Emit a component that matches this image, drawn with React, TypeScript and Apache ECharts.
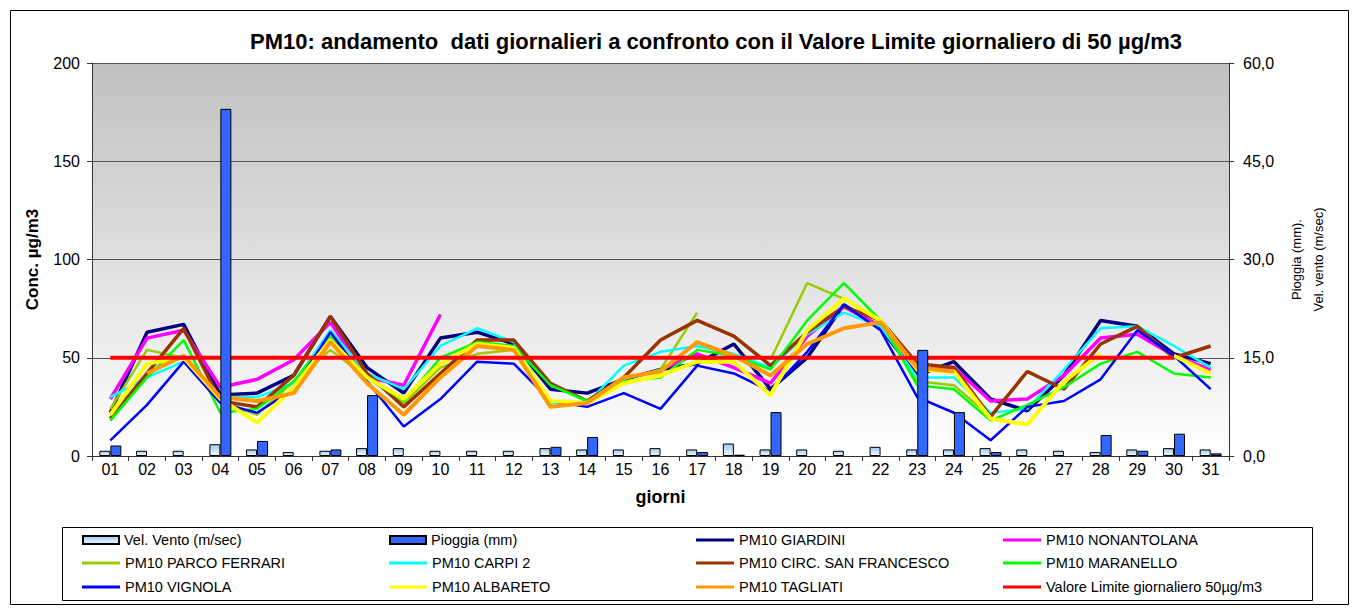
import React, { useEffect, useRef } from 'react';
import * as echarts from 'echarts';

const days = ['01','02','03','04','05','06','07','08','09','10','11','12','13','14','15','16','17','18','19','20','21','22','23','24','25','26','27','28','29','30','31'];

const velVento = [0.8,0.8,0.8,1.8,1.0,0.6,0.8,1.2,1.2,0.8,0.8,0.8,1.2,1.0,1.0,1.2,1.0,1.9,1.0,1.0,0.8,1.4,1.0,1.0,1.2,1.0,0.8,0.6,1.0,1.2,1.0];
const pioggia = [1.6,null,null,53,2.3,null,1.0,9.3,null,null,null,null,1.4,2.9,null,null,0.6,0.2,6.7,null,null,null,16.2,6.7,0.6,null,null,3.2,0.8,3.4,0.4];

const giardini = [22,63,67,31,32,41,71,45,32,60,63,57,34,32,39,44,47,57,34,50,77,65,41,48,29,23,41,69,66,52,47];
const nonantolana = [29,60,64,35,39,49,68,40,36,72,null,null,null,null,null,44,52,45,37,61,76,66,44,45,28,29,41,60,62,51,44];
const parcoFerrari = [24,54,50,28,21,38,54,40,27,45,52,54,27,27,39,44,73,null,49,88,80,69,38,36,20,null,null,null,null,null,null];
const carpi2 = [30,40,48,30,30,37,64,42,34,56,65,58,27,27,46,53,56,52,45,62,73,66,40,40,22,24,44,65,66,56,45];
const circSanFrancesco = [19,42,65,28,25,41,71,42,25,42,59,59,37,28,40,59,69,61,46,63,76,69,47,45,20,43,34,57,66,50,56];
const maranello = [18,40,59,22,24,38,61,40,28,50,58,56,36,28,38,40,54,51,44,69,88,69,36,34,18,26,35,47,53,42,40];
const vignola = [8,26,48,27,22,34,63,38,15,29,48,47,28,25,32,24,46,42,33,53,77,64,30,22,8,25,28,39,64,51,34];
const albareto = [21,47,50,29,17,35,59,40,29,47,57,55,28,27,37,41,48,48,31,64,80,69,44,43,19,16,38,52,null,51,42];
const tagliati = [null,42,51,30,28,32,58,37,21,40,56,54,25,27,40,43,58,51,41,57,65,68,45,43,null,null,null,null,null,null,null];
const valoreLimite = [50,50,50,50,50,50,50,50,50,50,50,50,50,50,50,50,50,50,50,50,50,50,50,50,50,50,50,50,50,50,null];

const leftTicks = { min: 0, max: 200, interval: 50 };
const rightTicks = { min: 0, max: 60, interval: 15 };

const FONT = 'Liberation Sans, Arial, sans-serif';

const lineDefs = [
  { name: 'PM10 GIARDINI', data: giardini, color: '#000080', width: 3.5 },
  { name: 'PM10 NONANTOLANA', data: nonantolana, color: '#ff00ff', width: 3.5 },
  { name: 'PM10 PARCO FERRARI', data: parcoFerrari, color: '#99cc00', width: 2.5 },
  { name: 'PM10 CARPI 2', data: carpi2, color: '#00ffff', width: 2.5 },
  { name: 'PM10 CIRC. SAN FRANCESCO', data: circSanFrancesco, color: '#993300', width: 3.5 },
  { name: 'PM10 MARANELLO', data: maranello, color: '#00ff00', width: 2.5 },
  { name: 'PM10 VIGNOLA', data: vignola, color: '#0000ff', width: 2.5 },
  { name: 'PM10 ALBARETO', data: albareto, color: '#ffff00', width: 4 },
  { name: 'PM10 TAGLIATI', data: tagliati, color: '#ff9900', width: 4 },
  { name: 'Valore Limite giornaliero 50µg/m3', data: valoreLimite, color: '#ff0000', width: 4 },
];

const barNames = ['Vel. Vento (m/sec)', 'Pioggia (mm)'];

const legendGrid = [
  ['Vel. Vento (m/sec)', 'Pioggia (mm)', 'PM10 GIARDINI', 'PM10 NONANTOLANA'],
  ['PM10 PARCO FERRARI', 'PM10 CARPI 2', 'PM10 CIRC. SAN FRANCESCO', 'PM10 MARANELLO'],
  ['PM10 VIGNOLA', 'PM10 ALBARETO', 'PM10 TAGLIATI', 'Valore Limite giornaliero 50µg/m3'],
];
const legendColX = [82, 389, 696, 1003];
const legendRowY = [540, 563, 587];

export default function App() {
  const ref = useRef<HTMLDivElement>(null);
  useEffect(() => {
    const chart = echarts.init(ref.current!, null, { renderer: 'svg' });
    const legends: any[] = [];
    legendGrid.forEach((row, r) => {
      row.forEach((name, c) => {
        const isBar = barNames.indexOf(name) >= 0;
        const h = isBar ? 8 : 3;
        legends.push({
          orient: 'horizontal',
          left: legendColX[c],
          top: legendRowY[r] - 8,
          itemWidth: isBar ? 36 : 38,
          itemHeight: h,
          padding: 0,
          icon: 'rect',
          data: [name],
          textStyle: { fontFamily: FONT, fontSize: 14.5, color: '#000', lineHeight: 16 },
        });
      });
    });
    const option: any = {
      animation: false,
      backgroundColor: '#ffffff',
      textStyle: { fontFamily: FONT },
      title: {
        text: 'PM10: andamento  dati giornalieri a confronto con il Valore Limite giornaliero di 50 µg/m3',
        left: 711,
        top: 25,
        textAlign: 'center',
        textStyle: { fontFamily: FONT, fontSize: 22, fontWeight: 'bold', color: '#000' },
      },
      graphic: [
        { type: 'rect', shape: { x: 10.5, y: 10.5, width: 1338, height: 594 }, style: { fill: 'none', stroke: '#000', lineWidth: 1 }, z: -1 },
        { type: 'rect', shape: { x: 62.5, y: 527.5, width: 1250, height: 73 }, style: { fill: 'none', stroke: '#000', lineWidth: 1 }, z: -1 },
      ],
      legend: legends,
      grid: {
        left: 92,
        top: 63,
        right: 127,
        bottom: 153,
        show: true,
        borderWidth: 0,
        backgroundColor: new echarts.graphic.LinearGradient(0, 0, 0, 1, [
          { offset: 0, color: '#c0c0c0' },
          { offset: 1, color: '#ffffff' },
        ]),
      },
      xAxis: {
        type: 'category',
        data: days,
        boundaryGap: true,
        name: 'giorni',
        nameLocation: 'middle',
        nameGap: 32,
        nameTextStyle: { fontFamily: FONT, fontSize: 18, fontWeight: 'bold', color: '#000' },
        axisLine: { lineStyle: { color: '#333', width: 1 } },
        axisTick: { show: true, length: 5, lineStyle: { color: '#333' } },
        axisLabel: { fontFamily: FONT, fontSize: 16, color: '#000', margin: 5, interval: 0 },
      },
      yAxis: [
        {
          type: 'value',
          ...leftTicks,
          name: 'Conc. µg/m3',
          nameLocation: 'middle',
          nameGap: 51,
          nameRotate: 90,
          nameTextStyle: { fontFamily: FONT, fontSize: 17, fontWeight: 'bold', color: '#000' },
          axisLine: { show: true, lineStyle: { color: '#333', width: 1 } },
          axisTick: { show: true, length: 5, lineStyle: { color: '#333' } },
          axisLabel: { fontFamily: FONT, fontSize: 16, color: '#000', margin: 12 },
          splitLine: { show: true, lineStyle: { color: '#555', width: 1 } },
        },
        {
          type: 'value',
          ...rightTicks,
          position: 'right',
          name: 'Pioggia (mm).\nVel. vento (m/sec)',
          nameLocation: 'middle',
          nameGap: 56,
          nameRotate: 90,
          nameTextStyle: { fontFamily: FONT, fontSize: 13, color: '#000', lineHeight: 22 },
          axisLine: { show: true, lineStyle: { color: '#333', width: 1 } },
          axisTick: { show: true, length: 5, lineStyle: { color: '#333' } },
          axisLabel: {
            fontFamily: FONT,
            fontSize: 16,
            color: '#000',
            margin: 14,
            formatter: (v: number) => v.toFixed(1).replace('.', ','),
          },
          splitLine: { show: false },
        },
      ],
      series: [
        ...lineDefs.map((d) => ({
          name: d.name,
          type: 'line',
          data: d.data,
          yAxisIndex: 0,
          symbol: 'none',
          connectNulls: false,
          color: d.color,
          itemStyle: { color: d.color },
          lineStyle: { color: d.color, width: d.width },
          z: 2,
        })),
        {
          name: 'Vel. Vento (m/sec)',
          type: 'bar',
          yAxisIndex: 1,
          data: velVento,
          barWidth: 11,
          barGap: '0%',
          itemStyle: {
            color: new echarts.graphic.LinearGradient(0, 0, 0, 1, [
              { offset: 0, color: '#9cc8f2' },
              { offset: 1, color: '#f4f9ff' },
            ]),
            borderColor: '#000',
            borderWidth: 1,
          },
          z: 3,
        },
        {
          name: 'Pioggia (mm)',
          type: 'bar',
          yAxisIndex: 1,
          data: pioggia,
          barWidth: 11,
          barGap: '0%',
          itemStyle: { color: '#3366ff', borderColor: '#000', borderWidth: 1 },
          z: 3,
        },
      ],
    };
    chart.setOption(option);
    return () => chart.dispose();
  }, []);
  return (
    <div
      ref={ref}
      style={{ position: 'fixed', left: 0, top: 0, width: 1356, height: 609, background: '#fff' }}
    />
  );
}
